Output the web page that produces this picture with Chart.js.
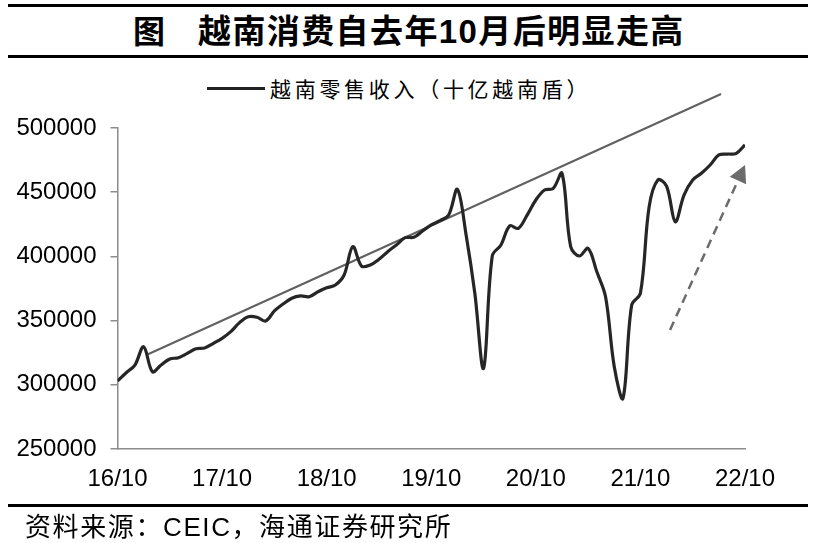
<!DOCTYPE html>
<html>
<head>
<meta charset="utf-8">
<script src="https://cdn.jsdelivr.net/npm/chart.js@4.4.1/dist/chart.umd.min.js"></script>
<style>
  body { margin:0; background:#fff; }
  #wrap { position:relative; width:814px; height:543px; overflow:hidden; }
  canvas { position:absolute; left:0; top:0; }
  .rule { position:absolute; left:8px; width:800px; height:3px; background:#000; }
  .txt { position:absolute; white-space:nowrap; color:#000; }
</style>
</head>
<body>
<div id="wrap">
  <div class="rule" style="top:4px;"></div>
  <div class="txt" style="left:133px;top:6px;font:700 32px 'Noto Sans CJK SC';">图</div>
  <div class="txt" style="left:198px;top:5px;font:700 33px 'Liberation Sans','Noto Sans CJK SC';letter-spacing:1.4px;">越南消费自去年10月后明显走高</div>
  <div class="rule" style="top:55px;"></div>
  <div style="position:absolute;left:207px;top:87px;width:58px;height:3px;background:#222;"></div>
  <div class="txt" style="left:270px;top:73px;font:400 21px 'Noto Sans CJK SC';letter-spacing:3.7px;">越南零售收入（十亿越南盾）</div>
  <canvas id="chart" width="814" height="543"></canvas>
  <div class="rule" style="top:504px;"></div>
  <div class="txt" style="left:25px;top:506px;font:400 26px 'Liberation Sans','Noto Sans CJK SC';letter-spacing:1.6px;">资料来源：CEIC，海通证券研究所</div>
</div>
<script>
// months 16/10 .. 22/10
const months = [
  '16/10','16/11','16/12','17/01','17/02','17/03','17/04','17/05','17/06','17/07','17/08','17/09',
  '17/10','17/11','17/12','18/01','18/02','18/03','18/04','18/05','18/06','18/07','18/08','18/09',
  '18/10','18/11','18/12','19/01','19/02','19/03','19/04','19/05','19/06','19/07','19/08','19/09',
  '19/10','19/11','19/12','20/01','20/02','20/03','20/04','20/05','20/06','20/07','20/08','20/09',
  '20/10','20/11','20/12','21/01','21/02','21/03','21/04','21/05','21/06','21/07','21/08','21/09',
  '21/10','21/11','21/12','22/01','22/02','22/03','22/04','22/05','22/06','22/07','22/08','22/09',
  '22/10'
];
// 越南零售收入（十亿越南盾）
const sales = [
  303000, 309400, 315400, 329700, 310200, 315400, 320100, 321100, 324500, 328100, 328700, 332300,
  336200, 341400, 348400, 353000, 352600, 349700, 357500, 362900, 367400, 369200, 368600, 372500,
  375600, 377700, 385500, 407600, 392500, 393300, 397700, 403700, 408900, 414600, 414900, 419800,
  424500, 427800, 432200, 452300, 416700, 371300, 312800, 400300, 408900, 423700, 421900, 432200,
  443900, 451700, 453000, 464700, 407600, 400300, 406300, 388000, 368600, 314100, 289500, 362100,
  371300, 438700, 459500, 454800, 427000, 447800, 459500, 464700, 471200, 479000, 479700, 480300,
  486800
];
const xTickLabels = ['16/10', '17/10', '18/10', '19/10', '20/10', '21/10', '22/10'];
const yTicks = [250000, 300000, 350000, 400000, 450000, 500000];

// trend line and arrow, in month index / value units
const trendX = [3.5, 69.25];
const trendY = [323800, 526500];
const arrowX = [63.4, 72.0];
const arrowY = [342700, 471200];

const arrowPlugin = {
  id: 'arrow',
  afterDatasetsDraw(chart) {
    const { ctx, scales: { x, y } } = chart;
    const x0 = x.getPixelForValue(arrowX[0]), y0 = y.getPixelForValue(arrowY[0]);
    const x1 = x.getPixelForValue(arrowX[1]), y1 = y.getPixelForValue(arrowY[1]);
    const ang = Math.atan2(y1 - y0, x1 - x0);
    const headLen = 17, headW = 9;
    const bx = x1 - headLen * Math.cos(ang), by = y1 - headLen * Math.sin(ang);
    ctx.save();
    ctx.strokeStyle = '#6b6b6b';
    ctx.fillStyle = '#6b6b6b';
    ctx.lineWidth = 2.5;
    ctx.setLineDash([9, 6]);
    ctx.beginPath();
    ctx.moveTo(x0, y0);
    ctx.lineTo(bx, by);
    ctx.stroke();
    ctx.setLineDash([]);
    ctx.beginPath();
    ctx.moveTo(x1, y1);
    ctx.lineTo(bx + headW * Math.sin(ang), by - headW * Math.cos(ang));
    ctx.lineTo(bx - headW * Math.sin(ang), by + headW * Math.cos(ang));
    ctx.closePath();
    ctx.fill();
    ctx.restore();
  }
};

new Chart(document.getElementById('chart'), {
  type: 'line',
  data: {
    datasets: [{
      label: '越南零售收入（十亿越南盾）',
      data: sales.map((v, i) => ({ x: i, y: v })),
      borderColor: '#262626',
      borderWidth: 3.2,
      tension: 0.35,
      pointRadius: 0,
      fill: false
    }, {
      label: 'trend',
      data: trendX.map((v, i) => ({ x: v, y: trendY[i] })),
      borderColor: '#606060',
      borderWidth: 2,
      pointRadius: 0,
      clip: false
    }]
  },
  options: {
    responsive: false,
    animation: false,
    layout: { padding: { top: 128, right: 69, left: 0, bottom: 0 } },
    plugins: { legend: { display: false }, tooltip: { enabled: false } },
    scales: {
      x: {
        type: 'linear',
        min: 0,
        max: 72,
        afterFit: (s) => { s.height = 94; },
        afterBuildTicks: (s) => { s.ticks = xTickLabels.map((t, i) => ({ value: i * 12 })); },
        grid: { display: false, drawTicks: false },
        border: { display: true, color: '#8c8c8c', width: 1.5 },
        ticks: {
          padding: 16,
          maxRotation: 0,
          autoSkip: false,
          color: '#000',
          font: { family: 'Liberation Sans', size: 24 },
          callback: (v) => xTickLabels[Math.round(v / 12)]
        }
      },
      y: {
        min: 250000,
        max: 500000,
        afterFit: (s) => { s.width = 117.5; },
        afterBuildTicks: (s) => { s.ticks = yTicks.map(v => ({ value: v })); },
        grid: { display: true, drawOnChartArea: false, drawTicks: true, tickLength: 7, color: '#8c8c8c', lineWidth: 1.5 },
        border: { display: true, color: '#8c8c8c', width: 1.5 },
        ticks: {
          padding: 14,
          color: '#000',
          font: { family: 'Liberation Sans', size: 24 },
          callback: (v) => String(v)
        }
      }
    }
  },
  plugins: [arrowPlugin]
});
</script>
</body>
</html>
